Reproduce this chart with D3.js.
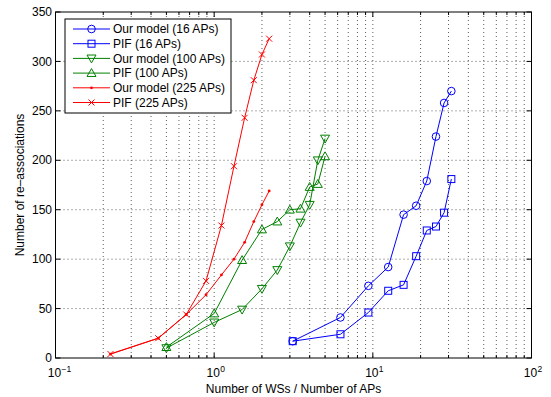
<!DOCTYPE html>
<html>
<head>
<meta charset="utf-8">
<script src="https://cdn.jsdelivr.net/npm/d3@7"></script>
<style>
  html, body { margin: 0; padding: 0; background: #fff; }
  svg { display: block; font-family: "Liberation Sans", Arial, Helvetica, sans-serif; }
</style>
</head>
<body>
<svg id="chart" width="551" height="397"></svg>
<script>
// WSs per AP for each network size (50..500 WSs in steps of 50)
const ratio16  = [3.125, 6.25, 9.375, 12.5, 15.625, 18.75, 21.875, 25, 28.125, 31.25];
const ratio100 = [0.5, 1.0, 1.5, 2.0, 2.5, 3.0, 3.5, 4.0, 4.5, 5.0];
const ratio225 = [0.222, 0.444, 0.667, 0.889, 1.111, 1.333, 1.556, 1.778, 2.0, 2.222];

// Number of re-associations
const ourModel16  = [17, 41, 73, 92, 145, 154, 179, 224, 258, 270];
const pif16       = [17, 24, 46, 68, 74, 103, 129, 133, 147, 181];
const ourModel100 = [10, 36, 49, 70, 89, 113, 137, 155, 200, 222];
const pif100      = [11, 45, 99, 130, 138, 150, 151, 173, 176, 204];
const ourModel225 = [4, 20, 44, 64, 84, 100, 117, 138, 155, 169];
const pif225      = [4, 20, 44, 78, 134, 194, 243, 281, 307, 323];

const yTicks = [0, 50, 100, 150, 200, 250, 300, 350];
const xDecades = [-1, 0, 1, 2];

const series = [
  { name: "Our model (16 APs)",  x: ratio16,  y: ourModel16,  color: "#0000ff", marker: "circle" },
  { name: "PIF (16 APs)",        x: ratio16,  y: pif16,       color: "#0000ff", marker: "square" },
  { name: "Our model (100 APs)", x: ratio100, y: ourModel100, color: "#008000", marker: "down" },
  { name: "PIF (100 APs)",       x: ratio100, y: pif100,      color: "#008000", marker: "up" },
  { name: "Our model (225 APs)", x: ratio225, y: ourModel225, color: "#ff0000", marker: "dot" },
  { name: "PIF (225 APs)",       x: ratio225, y: pif225,      color: "#ff0000", marker: "cross" }
];

const svg = d3.select("#chart");
const plotL = 55.5, plotR = 531.5, plotT = 12, plotB = 358;

const x = d3.scaleLog().domain([0.1, 100]).range([plotL, plotR]);
const y = d3.scaleLinear().domain([0, 350]).range([plotB, plotT]);

// minor + major positions on the log axis
const xGridVals = [];
[0.1, 1, 10].forEach(d => { for (let k = 1; k <= 9; k++) xGridVals.push(k * d); });
xGridVals.push(100);

// dotted grid
const grid = svg.append("g").attr("stroke", "#333").attr("stroke-width", 0.8)
  .attr("stroke-dasharray", "1,3").attr("fill", "none");
xGridVals.filter(v => v > 0.1 && v < 100).forEach(v => {
  grid.append("line").attr("x1", x(v)).attr("x2", x(v)).attr("y1", plotT).attr("y2", plotB);
});
yTicks.filter(v => v > 0 && v < 350).forEach(v => {
  grid.append("line").attr("x1", plotL).attr("x2", plotR).attr("y1", y(v)).attr("y2", y(v));
});

// series lines and markers
function drawMarker(g, type, cx, cy, color) {
  if (type === "circle") {
    g.append("circle").attr("cx", cx).attr("cy", cy).attr("r", 3.8)
      .attr("fill", "none").attr("stroke", color);
  } else if (type === "square") {
    g.append("rect").attr("x", cx - 3.5).attr("y", cy - 3.5).attr("width", 7).attr("height", 7)
      .attr("fill", "none").attr("stroke", color);
  } else if (type === "up") {
    const s = 4.5;
    g.append("path").attr("d", `M${cx},${cy - s}L${cx + s},${cy + s * 0.75}L${cx - s},${cy + s * 0.75}Z`)
      .attr("fill", "none").attr("stroke", color);
  } else if (type === "down") {
    const s = 4.5;
    g.append("path").attr("d", `M${cx},${cy + s}L${cx + s},${cy - s * 0.75}L${cx - s},${cy - s * 0.75}Z`)
      .attr("fill", "none").attr("stroke", color);
  } else if (type === "dot") {
    g.append("circle").attr("cx", cx).attr("cy", cy).attr("r", 1.4).attr("fill", color);
  } else if (type === "cross") {
    const s = 3;
    g.append("path").attr("d", `M${cx - s},${cy - s}L${cx + s},${cy + s}M${cx - s},${cy + s}L${cx + s},${cy - s}`)
      .attr("fill", "none").attr("stroke", color);
  }
}

const line = d3.line().x(d => x(d[0])).y(d => y(d[1]));
series.forEach(s => {
  const pts = s.x.map((v, i) => [v, s.y[i]]);
  const g = svg.append("g");
  g.append("path").attr("d", line(pts)).attr("fill", "none")
    .attr("stroke", s.color).attr("stroke-width", 1);
  pts.forEach(p => drawMarker(g, s.marker, x(p[0]), y(p[1]), s.color));
});

// ticks (inside, on all four sides)
const ticks = svg.append("g").attr("stroke", "#000").attr("stroke-width", 1);
xGridVals.forEach(v => {
  const isMajor = Math.abs(Math.log10(v) - Math.round(Math.log10(v))) < 1e-9;
  const len = isMajor ? 5 : 3;
  ticks.append("line").attr("x1", x(v)).attr("x2", x(v)).attr("y1", plotB).attr("y2", plotB - len);
  ticks.append("line").attr("x1", x(v)).attr("x2", x(v)).attr("y1", plotT).attr("y2", plotT + len);
});
yTicks.forEach(v => {
  ticks.append("line").attr("x1", plotL).attr("x2", plotL + 5).attr("y1", y(v)).attr("y2", y(v));
  ticks.append("line").attr("x1", plotR).attr("x2", plotR - 5).attr("y1", y(v)).attr("y2", y(v));
});

// axes box
svg.append("rect").attr("x", plotL).attr("y", plotT).attr("width", plotR - plotL).attr("height", plotB - plotT)
  .attr("fill", "none").attr("stroke", "#000").attr("stroke-width", 1);

// y tick labels
svg.append("g").selectAll("text").data(yTicks).join("text")
  .attr("x", plotL - 3.5).attr("y", d => y(d)).attr("dy", "0.35em")
  .attr("text-anchor", "end").attr("font-size", 12).attr("fill", "#000")
  .text(d => d);

// x tick labels: powers of ten, mantissa centred on the tick, exponent to its right
xDecades.forEach(p => {
  const cx = x(Math.pow(10, p));
  svg.append("text").attr("x", cx - 1).attr("y", 377)
    .attr("text-anchor", "middle").attr("font-size", 12).attr("fill", "#000").text("10");
  svg.append("text").attr("x", cx + 6).attr("y", 372)
    .attr("text-anchor", "start").attr("font-size", 8.5).attr("fill", "#000")
    .text(String(p).replace("-", "\u2212"));
});

// axis titles
svg.append("text").attr("x", (plotL + plotR) / 2).attr("y", 392.5).attr("text-anchor", "middle")
  .attr("font-size", 12).attr("fill", "#000").text("Number of WSs / Number of APs");
svg.append("text").attr("transform", `translate(23.5,${(plotT + plotB) / 2}) rotate(-90)`)
  .attr("text-anchor", "middle").attr("font-size", 12).attr("fill", "#000")
  .text("Number of re\u2013associations");

// legend
const lg = svg.append("g");
lg.append("rect").attr("x", 65).attr("y", 19).attr("width", 166).attr("height", 94)
  .attr("fill", "#fff").attr("stroke", "#000").attr("stroke-width", 1);
series.forEach((s, i) => {
  const ry = 29 + i * 14.7;
  lg.append("line").attr("x1", 73).attr("x2", 110).attr("y1", ry).attr("y2", ry)
    .attr("stroke", s.color).attr("stroke-width", 1);
  drawMarker(lg, s.marker, 91.5, ry, s.color);
  lg.append("text").attr("x", 113).attr("y", ry).attr("dy", "0.35em")
    .attr("font-size", 12).attr("fill", "#000").text(s.name);
});
</script>
</body>
</html>
